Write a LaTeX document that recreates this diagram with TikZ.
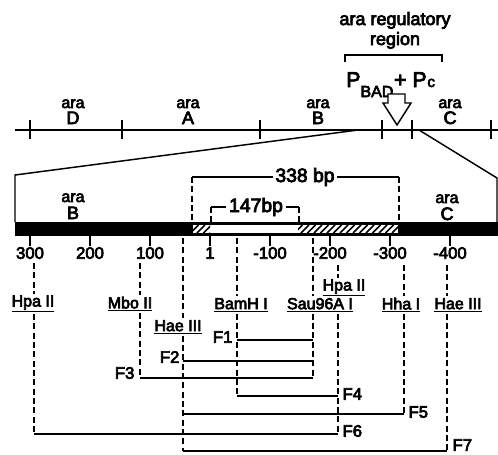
\documentclass[tikz,border=0pt]{standalone}
\usepackage{fontspec}
\setmainfont{Liberation Sans}[FakeBold=4]
\usetikzlibrary{positioning,calc}

\begin{document}
\begin{tikzpicture}[
  x=0.75pt, y=-0.75pt,
  every node/.style={inner sep=1pt},
  gene/.style={anchor=base,font=\fontsize{12}{13}\selectfont},
  letter/.style={anchor=base,font=\fontsize{13.5}{14}\selectfont},
  site/.style={font=\fontsize{12}{13}\selectfont},
  num/.style={font=\fontsize{12.5}{13}\selectfont},
  flab/.style={font=\fontsize{12.5}{13}\selectfont},
  bplab/.style={font=\fontsize{14.5}{15}\selectfont,fill=white,inner sep=2pt},
  thin/.style={line width=1.1pt},
  frag/.style={line width=1.5pt},
  cut/.style={line width=1.1pt,dash pattern=on 4.5pt off 2.5pt}
]
\useasboundingbox (0,0) rectangle (498,454);

% ara 遺伝子地図
\draw[line width=2.2pt] (15,130) coordinate (mapL) -- (498,130) coordinate (mapR);
\foreach \x in {30,122,260,382,412,491}
  \draw[line width=1.6pt] (\x,120) -- (\x,139);
\foreach \x/\g in {73/D,188/A,318/B,450/C}{
  \node[gene] (ara\g) at (\x,108) {ara};
  \node[letter] (gene\g) at (\x,124) {\g};
}

% 調節領域
\node[anchor=base,font=\fontsize{13.5}{15}\selectfont] (reg1) at (395,25) {ara regulatory};
\node[anchor=base,font=\fontsize{13.5}{15}\selectfont] (reg2) at (395,45) {region};
\draw[thin] (345,62) -- (345,55) -- (442,55) -- (442,62);
\node[anchor=base west,inner sep=0pt,font=\fontsize{16}{17}\selectfont] (prom) at (346,87)
  {P\raisebox{-7.5pt}{\fontsize{12}{12}\selectfont BAD}\kern0.5pt+\ P\kern0.5pt{\fontsize{11.5}{12}\selectfont c}};
\draw[thin,fill=white] (388,94) -- (405,94) -- (405,103) -- (411,103)
  -- (397,125) -- (383,103) -- (388,103) -- cycle;

% 拡大部分
\coordinate (zoomL) at (358,130);
\coordinate (zoomR) at (419,130);
\coordinate (boxL) at (15,175);
\coordinate (boxR) at (497,178);
\draw[thin] (zoomL) -- (boxL) -- (boxL |- 0,222);
\draw[thin] (zoomR) -- (boxR) -- (boxR |- 0,222);

\node[gene] (araB2) at (73,202) {ara};
\node[letter] (geneB2) at (73,219) {B};
\node[gene] (araC2) at (447,203) {ara};
\node[letter] (geneC2) at (447,220) {C};

% DNA 断片のバー
\fill (15,222) rectangle (498,236);
\fill[white] (193,225) rectangle (398,233);
\begin{scope}
  \clip (193,225) rectangle (210,233) (298,225) rectangle (398,233);
  \foreach \x in {184,190.5,...,400}
    \draw[line width=1.1pt] (\x,233) -- (\x+8,225);
\end{scope}

% 目盛り
\foreach \x/\n in {30/300,90/200,150/100,210/1,270/-100,330/-200,390/-300,450/-400}{
  \draw[thin] (\x,236) -- (\x,246);
  \node[num] (n\x) at (\x,253) {\n};
}

% 338 bp と 147 bp
\node[bplab] (bp338) at (305,177) {338 bp};
\coordinate (l338) at (192,177);
\coordinate (r338) at (399,177);
\draw[thin] (l338) -- (r338);
\draw[cut] (l338) -- (l338 |- 0,222);
\draw[cut] (r338) -- (r338 |- 0,222);
\node[bplab] (bp147) at (256,207) {147bp};
\coordinate (l147) at (211,207);
\coordinate (r147) at (299,207);
\draw[thin] (l147) -- (r147);
\draw[cut] (l147) -- (l147 |- 0,222);
\draw[cut] (r147) -- (r147 |- 0,222);
\node[bplab] at (bp338) {338 bp};
\node[bplab] at (bp147) {147bp};

% 制限酵素部位
\node[site] (hpaL) at (33,304) {\underline{Hpa II}};
\node[site] (mbo) at (130,304) {\underline{Mbo II}};
\node[site] (haeL) at (178,327) {\underline{Hae III}};
\node[site] (bam) at (241,305) {\underline{BamH I}};
\node[site] (sau) at (320,305) {\underline{Sau96A I}};
\node[site] (hpaR) at (344,288) {\underline{Hpa II}};
\node[site] (hha) at (401,305) {\underline{Hha I}};
\node[site] (haeR) at (458,305) {\underline{Hae III}};

\coordinate (sHpaL) at (34,263);
\coordinate (sMbo) at (140,263);
\coordinate (sHaeL) at (183,238);
\coordinate (sBam) at (237,238);
\coordinate (sSau) at (313,238);
\coordinate (sHpaR) at (338,265);
\coordinate (sHha) at (404,265);
\coordinate (sHaeR) at (447,265);

% 断片の高さ
\coordinate (yF1) at (0,340);
\coordinate (yF2) at (0,361);
\coordinate (yF3) at (0,378);
\coordinate (yF4) at (0,396);
\coordinate (yF5) at (0,414);
\coordinate (yF6) at (0,434);
\coordinate (yF7) at (0,451);

\draw[cut] (sHpaL) -- (sHpaL |- hpaL.north);
\draw[cut] (sHpaL |- hpaL.south) -- (sHpaL |- yF6);
\draw[cut] (sMbo) -- (sMbo |- mbo.north);
\draw[cut] (sMbo |- mbo.south) -- (sMbo |- yF3);
\draw[cut] (sHaeL) -- (sHaeL |- haeL.north);
\draw[cut] (sHaeL |- haeL.south) -- (sHaeL |- yF7);
\draw[cut] (sBam) -- (sBam |- bam.north);
\draw[cut] (sBam |- bam.south) -- (sBam |- yF4);
\draw[cut] (sSau) -- (sSau |- sau.north);
\draw[cut] (sSau |- sau.south) -- (sSau |- yF3);
\draw[cut] (sHpaR) -- (sHpaR |- hpaR.north);
\draw[cut] (sHpaR |- sau.south) -- (sHpaR |- yF6);
\draw[cut] (sHha) -- (sHha |- hha.north);
\draw[cut] (sHha |- hha.south) -- (sHha |- yF5);
\draw[cut] (sHaeR) -- (sHaeR |- haeR.north);
\draw[cut] (sHaeR |- haeR.south) -- (sHaeR |- yF7);

% 断片 F1--F7
\draw[frag] (sBam |- yF1) -- (sSau |- yF1);
\node[flab,anchor=east] (f1) at (234,337) {F1};
\draw[frag] (sHaeL |- yF2) -- (sSau |- yF2);
\node[flab,anchor=east] (f2) at (181,357) {F2};
\draw[frag] (sMbo |- yF3) -- (sSau |- yF3);
\node[flab,anchor=east] (f3) at (136,373) {F3};
\draw[frag] (sBam |- yF4) -- (sHpaR |- yF4);
\node[flab,anchor=west] (f4) at (341,394) {F4};
\draw[frag] (sHaeL |- yF5) -- (sHha |- yF5);
\node[flab,anchor=west] (f5) at (407,412) {F5};
\draw[frag] (sHpaL |- yF6) -- (sHpaR |- yF6);
\node[flab,anchor=west] (f6) at (341,431) {F6};
\draw[frag] (sHaeL |- yF7) -- (sHaeR |- yF7);
\node[flab,anchor=west] (f7) at (451,445) {F7};
\end{tikzpicture}
\end{document}
